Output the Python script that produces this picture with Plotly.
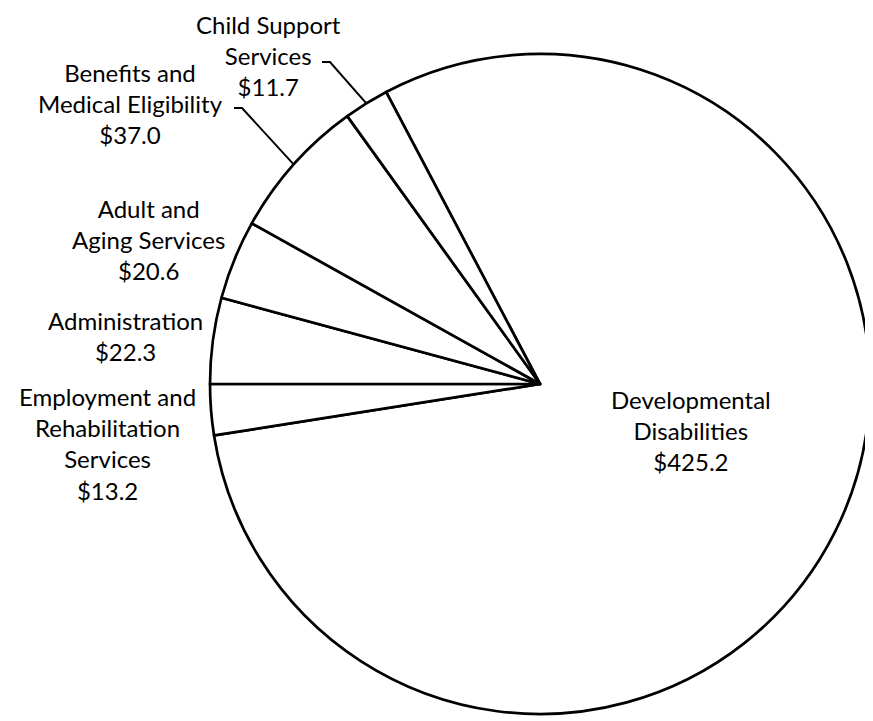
import math
import plotly.graph_objects as go

labels = ["Developmental Disabilities", "Employment and Rehabilitation Services",
          "Administration", "Adult and Aging Services",
          "Benefits and Medical Eligibility", "Child Support Services"]
values = [425.2, 13.2, 22.3, 20.6, 37.0, 11.7]
label_text = ["Developmental<br>Disabilities", "Employment and<br>Rehabilitation<br>Services",
              "Administration", "Adult and<br>Aging Services",
              "Benefits and<br>Medical Eligibility", "Child Support<br>Services"]

W, H = 873, 721
OFF = 8  # default page body margin


def X(x):
    return (x - OFF) / W


def Y(y):
    return 1 - (y - OFF) / H


total = sum(values)
# first slice starts such that Employment ends at 9 o'clock
rotation = 270 - 360 * (values[0] + values[1]) / total

cx0, cy0, R = 540, 384, 330

fig = go.Figure(go.Pie(
    labels=labels, values=values, sort=False, direction="clockwise",
    rotation=rotation, textinfo="none", hoverinfo="label+value",
    marker=dict(colors=["white"] * 6, line=dict(color="black", width=2.7)),
    domain=dict(x=[X(cx0 - R), X(cx0 + R)], y=[Y(cy0 + R), Y(cy0 - R)]),
    showlegend=False,
))

font = dict(family="Lato, Noto Sans, sans-serif", size=24, color="black")
# label centers in pixel positions
centers = [(691, 430), (107, 444), (126, 336), (148, 239), (130, 104), (268, 56)]
for txt, v, (cx, cy) in zip(label_text, values, centers):
    fig.add_annotation(text=f"{txt}<br>${v:.1f}", x=X(cx), y=Y(cy),
                       xref="paper", yref="paper", xanchor="center", yanchor="middle",
                       showarrow=False, font=font, align="center")


def mid_point(i):
    start = rotation + 360 * sum(values[:i]) / total
    mid = math.radians(start + 180 * values[i] / total)
    return cx0 + R * math.sin(mid), cy0 - R * math.cos(mid)


for i, (sx, sy) in [(5, (322, 62)), (4, (234, 108))]:
    px, py = mid_point(i)
    path = f"M {X(sx)},{Y(sy)} L {X(sx + 8)},{Y(sy)} L {X(px)},{Y(py)}"
    fig.add_shape(type="path", path=path, xref="paper", yref="paper",
                  line=dict(color="black", width=2))

fig.update_layout(width=W, height=H, margin=dict(l=0, r=0, t=0, b=0),
                  paper_bgcolor="white", plot_bgcolor="white")
fig.write_html("out.html")
